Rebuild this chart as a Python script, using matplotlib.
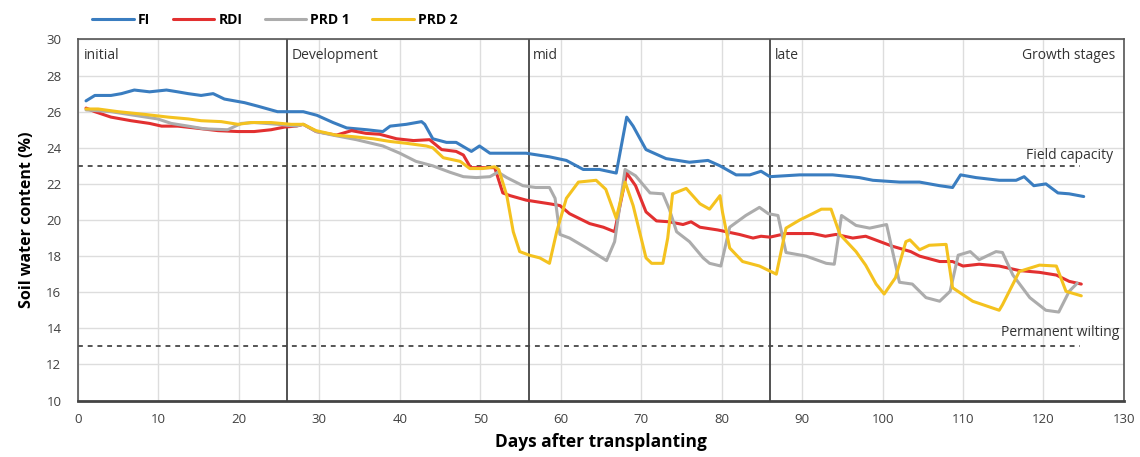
import matplotlib.pyplot as plt

plt.rcParams['font.family'] = ['Open Sans', 'DejaVu Sans']

# soil water content (%) read at days after transplanting, one list per treatment
fi_points = [(1, 26.6), (2.1, 26.9), (4.1, 26.9), (5.4, 27.0), (7, 27.2), (8.9, 27.1), (11, 27.2),
             (12.4, 27.1), (13.7, 27.0), (15.3, 26.9), (16.8, 27.0), (18.2, 26.7), (20.7, 26.5),
             (22.4, 26.3), (24.8, 26.0), (27.1, 26.0), (28, 26.0), (29.7, 25.8), (31.7, 25.4),
             (33.4, 25.1), (35.9, 25.0), (37.9, 24.9), (38.8, 25.2), (40.8, 25.3), (42.7, 25.45),
             (43.1, 25.3), (44.1, 24.5), (45.8, 24.3), (47, 24.3), (48.9, 23.8), (49.9, 24.1),
             (51.2, 23.7), (53.5, 23.7), (55.7, 23.7), (58.6, 23.5), (60.7, 23.3), (62.8, 22.8),
             (64.8, 22.8), (66.9, 22.6), (68.2, 25.7), (69, 25.2), (70.6, 23.9), (73.1, 23.4),
             (76, 23.2), (78.3, 23.3), (79.8, 23.0), (81.8, 22.5), (83.5, 22.5), (84.9, 22.7),
             (86, 22.4), (89.7, 22.5), (93.8, 22.5), (97.1, 22.35), (98.8, 22.2), (102.1, 22.1),
             (104.6, 22.1), (107.1, 21.9), (108.7, 21.8), (109.7, 22.5), (111.6, 22.35),
             (114.5, 22.2), (116.6, 22.2), (117.6, 22.4), (118.8, 21.9), (120.3, 22.0),
             (121.8, 21.5), (123.2, 21.45), (125, 21.3)]

rdi_points = [(1, 26.2), (2.1, 26.0), (4.1, 25.7), (6.6, 25.5), (8.9, 25.35), (10.4, 25.2),
              (12.4, 25.2), (14.5, 25.1), (17.4, 24.95), (19.9, 24.9), (21.9, 24.9), (24, 25.0),
              (25.7, 25.15), (27.1, 25.2), (28, 25.3), (29.6, 24.9), (32.1, 24.7), (34, 24.95),
              (35.8, 24.8), (37.5, 24.75), (39.6, 24.5), (41.7, 24.4), (43.7, 24.45), (45.2, 23.9),
              (47, 23.8), (47.9, 23.6), (48.8, 22.9), (50.3, 22.9), (51.8, 22.9), (52.8, 21.5),
              (53.7, 21.35), (55.7, 21.1), (58.6, 20.9), (59.9, 20.8), (61.1, 20.35), (63.6, 19.8),
              (65.3, 19.6), (66.7, 19.35), (68.2, 22.6), (69.3, 21.9), (70.6, 20.45), (71.9, 19.95),
              (73.5, 19.9), (75.2, 19.75), (76.2, 19.9), (77.3, 19.6), (79.5, 19.45), (82.2, 19.2),
              (83.9, 19.0), (84.9, 19.1), (86, 19.05), (88, 19.25), (91.3, 19.25), (92.9, 19.1),
              (94.2, 19.2), (96.3, 19.0), (97.9, 19.1), (101.2, 18.55), (103.5, 18.25),
              (104.6, 18.0), (107.1, 17.7), (108.7, 17.7), (110, 17.45), (112, 17.55),
              (114.5, 17.45), (117, 17.2), (119.5, 17.1), (121.6, 16.95), (123.2, 16.6),
              (124.7, 16.45)]

prd1_points = [(1, 26.1), (4.1, 26.0), (7, 25.8), (9.9, 25.6), (11.6, 25.35), (13.7, 25.2),
               (15.7, 25.05), (18.6, 25.0), (20.3, 25.35), (21.9, 25.4), (24.8, 25.3), (27.1, 25.2),
               (28, 25.3), (29.6, 24.9), (31.7, 24.7), (34.6, 24.45), (37.9, 24.1), (40, 23.7),
               (42, 23.25), (44.1, 23.0), (46.2, 22.65), (47.9, 22.4), (49.5, 22.35), (51.2, 22.4),
               (52.2, 22.65), (53.3, 22.35), (55.3, 21.9), (56.9, 21.8), (58.6, 21.8), (59.3, 21.2),
               (59.9, 19.2), (61.1, 19.0), (63.2, 18.45), (65.7, 17.75), (66.7, 18.8), (68, 22.8),
               (69.3, 22.45), (71.1, 21.5), (72.7, 21.45), (73.5, 20.6), (74.4, 19.35), (76, 18.8),
               (77.7, 17.9), (78.5, 17.6), (79.9, 17.45), (81, 19.6), (83, 20.25), (84.7, 20.7),
               (85.8, 20.35), (87, 20.25), (88, 18.2), (90.5, 18.0), (93, 17.6), (94, 17.55),
               (94.9, 20.25), (96.7, 19.7), (98.4, 19.55), (100.5, 19.75), (102.1, 16.55),
               (103.7, 16.45), (105.4, 15.7), (107.1, 15.5), (108.4, 16.05), (109.4, 18.05),
               (110.9, 18.25), (112, 17.8), (114.1, 18.25), (114.9, 18.2), (116.2, 16.95),
               (118.3, 15.7), (120.3, 15.0), (121.9, 14.9), (123.2, 16.05), (124.2, 16.5)]

prd2_points = [(1, 26.15), (2.5, 26.15), (5, 26.0), (8.3, 25.85), (11.2, 25.7), (13.7, 25.6),
               (15.3, 25.5), (17.8, 25.45), (19.9, 25.3), (21.5, 25.4), (24, 25.4), (26.5, 25.3),
               (28, 25.3), (29.6, 24.95), (32.1, 24.7), (34.6, 24.6), (36.7, 24.5), (38.8, 24.35),
               (40.8, 24.25), (43.3, 24.1), (44.1, 24.0), (45.4, 23.45), (47.5, 23.25),
               (48.7, 22.85), (50.3, 22.85), (51.8, 22.95), (52.3, 22.8), (53.3, 21.35),
               (54.1, 19.35), (54.9, 18.25), (56.1, 18.05), (57.4, 17.9), (58.6, 17.6),
               (59.5, 19.35), (60.7, 21.2), (62.2, 22.1), (64.4, 22.2), (65.6, 21.7), (66.9, 20.1),
               (68, 22.1), (69, 20.8), (70.6, 17.9), (71.3, 17.6), (72.7, 17.6), (73.3, 19.0),
               (73.9, 21.45), (75.6, 21.75), (77.3, 20.9), (78.5, 20.6), (79.8, 21.35),
               (80.1, 20.45), (81, 18.45), (82.6, 17.7), (84.7, 17.45), (86.8, 17.0), (88, 19.55),
               (89.7, 20.0), (91.3, 20.35), (92.4, 20.6), (93.6, 20.6), (94.7, 19.2),
               (96.7, 18.25), (97.9, 17.5), (99.2, 16.45), (100.2, 15.9), (101.6, 16.8),
               (102.9, 18.8), (103.4, 18.9), (104.6, 18.35), (105.8, 18.6), (107.9, 18.65),
               (108.7, 16.25), (111.2, 15.5), (114.5, 15.0), (114.9, 15.3), (117, 17.15),
               (119.5, 17.5), (121.6, 17.45), (122.8, 16.05), (124.7, 15.8)]

series_names = ['FI', 'RDI', 'PRD 1', 'PRD 2']
series_colors = ['#3a7dc0', '#e23030', '#acacac', '#f4c21f']

stage_starts = [26, 56, 86]
stage_labels = ['initial', 'Development', 'mid', 'late']
field_capacity = 23
wilting_point = 13

fig = plt.figure(figsize=(11.4, 4.57), dpi=100)
ax = fig.add_axes([0.0684, 0.1236, 0.9175, 0.79])

for pts, name, col in zip([fi_points, rdi_points, prd1_points, prd2_points],
                          series_names, series_colors):
    days, swc = zip(*pts)
    ax.plot(days, swc, color=col, lw=2.2, label=name, solid_joinstyle='round',
            solid_capstyle='round', zorder=3)

# field capacity / wilting thresholds
ax.plot([0, 124.5], [field_capacity, field_capacity], ls=(0, (2.5, 2.5)), color='#555555', lw=1.4, zorder=2)
ax.plot([0, 124.5], [wilting_point, wilting_point], ls=(0, (2.5, 2.5)), color='#555555', lw=1.4, zorder=2)

# growth stage boundaries
for d in stage_starts:
    ax.axvline(d, color='#444444', lw=1.3, zorder=2)

stage_x = [0.7, 26.6, 56.5, 86.6]
for x, lab in zip(stage_x, stage_labels):
    ax.text(x, 29.1, lab, ha='left', va='center', fontsize=10, color='#333333')
ax.text(128.9, 29.1, 'Growth stages', ha='right', va='center', fontsize=10, color='#333333')
ax.text(128.7, 23.6, 'Field capacity', ha='right', va='center', fontsize=10, color='#333333')
ax.text(129.4, 13.75, 'Permanent wilting', ha='right', va='center', fontsize=10, color='#333333')

ax.set_xlim(0, 130)
ax.set_ylim(10, 30)
ax.set_xticks(range(0, 131, 10))
ax.set_yticks(range(10, 31, 2))
ax.grid(True, color='#dddddd', lw=1.0, zorder=0)
ax.set_axisbelow(True)
ax.tick_params(length=0, labelsize=9.5, labelcolor='#404040')
ax.tick_params(axis='x', pad=9)
ax.tick_params(axis='y', pad=12)

for side in ['left', 'top', 'right']:
    ax.spines[side].set_color('#555555')
    ax.spines[side].set_linewidth(1.2)
ax.spines['bottom'].set_color('#444444')
ax.spines['bottom'].set_linewidth(2.0)

ax.set_xlabel('Days after transplanting', fontsize=12.5, fontweight='bold', labelpad=5)
ax.set_ylabel('Soil water content (%)', fontsize=11.5, fontweight='bold', labelpad=8)

fig.legend(loc='upper left', bbox_to_anchor=(0.07, 1.0), ncol=4, frameon=False,
           handlelength=3.0, columnspacing=1.6, handletextpad=0.3,
           prop={'weight': 'bold', 'size': 10})

fig.savefig('out.png', dpi=100)
